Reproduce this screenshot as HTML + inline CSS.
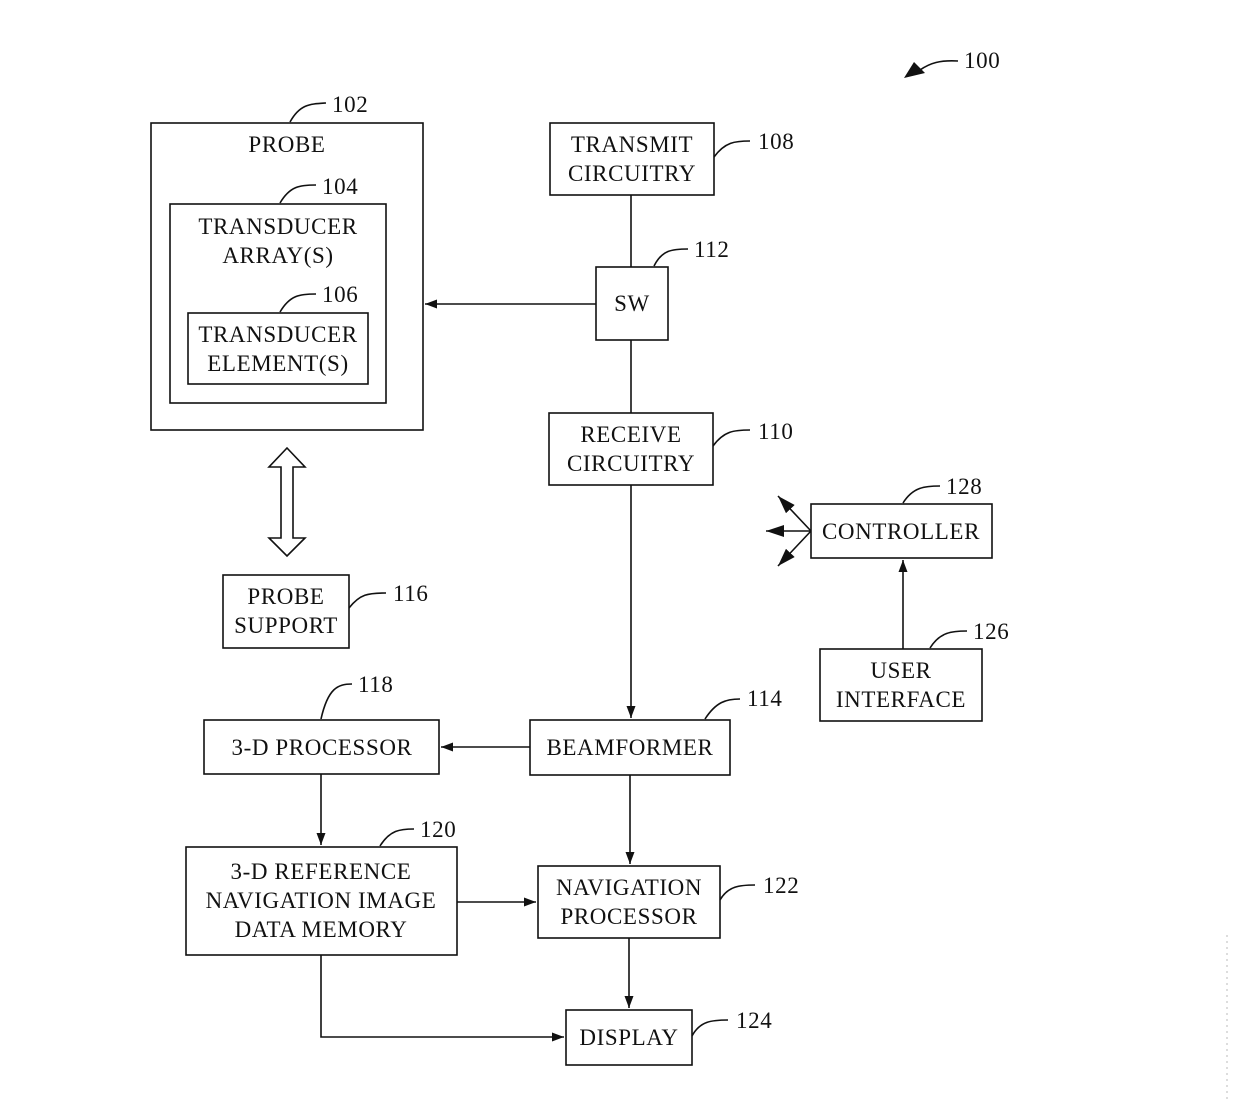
<!DOCTYPE html>
<html><head><meta charset="utf-8"><style>
body{margin:0;background:#fff}
svg text{font-family:"Liberation Serif",serif;font-size:23px;letter-spacing:0.6px;fill:#111}
</style></head><body>
<svg width="1240" height="1107" viewBox="0 0 1240 1107" xmlns="http://www.w3.org/2000/svg">
<defs>
<marker id="a" markerWidth="12" markerHeight="9" refX="12" refY="4.5" orient="auto" markerUnits="userSpaceOnUse" viewBox="0 0 12 9"><path d="M0,0 L12,4.5 L0,9 Z" fill="#111"/></marker>
<marker id="b" markerWidth="18" markerHeight="12" refX="18" refY="6" orient="auto" markerUnits="userSpaceOnUse" viewBox="0 0 18 12"><path d="M0,0 L18,6 L0,12 Z" fill="#111"/></marker>
</defs>
<g fill="none" stroke="#111" stroke-width="1.6">
<rect x="151" y="123" width="272" height="307"/>
<rect x="170" y="204" width="216" height="199"/>
<rect x="188" y="313" width="180" height="71"/>
<rect x="550" y="123" width="164" height="72"/>
<rect x="596" y="267" width="72" height="73"/>
<rect x="549" y="413" width="164" height="72"/>
<rect x="811" y="504" width="181" height="54"/>
<rect x="820" y="649" width="162" height="72"/>
<rect x="223" y="575" width="126" height="73"/>
<rect x="204" y="720" width="235" height="54"/>
<rect x="530" y="720" width="200" height="55"/>
<rect x="186" y="847" width="271" height="108"/>
<rect x="538" y="866" width="182" height="72"/>
<rect x="566" y="1010" width="126" height="55"/>
<line x1="631" y1="195" x2="631" y2="267"/>
<line x1="631" y1="340" x2="631" y2="413"/>
<line x1="596" y1="304" x2="425" y2="304" marker-end="url(#a)"/>
<line x1="631" y1="485" x2="631" y2="718" marker-end="url(#a)"/>
<line x1="530" y1="747" x2="441" y2="747" marker-end="url(#a)"/>
<line x1="630" y1="775" x2="630" y2="864" marker-end="url(#a)"/>
<line x1="321" y1="774" x2="321" y2="845" marker-end="url(#a)"/>
<line x1="457" y1="902" x2="536" y2="902" marker-end="url(#a)"/>
<line x1="629" y1="938" x2="629" y2="1008" marker-end="url(#a)"/>
<polyline points="321,955 321,1037 564,1037" marker-end="url(#a)"/>
<line x1="903" y1="649" x2="903" y2="560" marker-end="url(#a)"/>
<line x1="811" y1="531" x2="778" y2="496" marker-end="url(#b)"/>
<line x1="811" y1="531" x2="766" y2="531" marker-end="url(#b)"/>
<line x1="811" y1="531" x2="778" y2="566" marker-end="url(#b)"/>
<path d="M281,538 L281,467 L269,467 L287,448 L305,467 L293,467 L293,538 L305,538 L287,556 L269,538 Z"/>
<path d="M290,122 C300,104 310,104 326,103"/>
<path d="M280,203 C290,186 300,185 316,185"/>
<path d="M280,312 C290,295 300,294 316,294"/>
<path d="M714,157 C725,142 735,141 750,141"/>
<path d="M654,266 C662,250 672,249 688,249"/>
<path d="M713,446 C724,431 734,430 750,430"/>
<path d="M903,503 C913,487 925,486 940,486"/>
<path d="M930,648 C940,632 952,631 967,631"/>
<path d="M349,608 C360,594 368,593 386,593"/>
<path d="M321,719 C328,688 338,684 352,684"/>
<path d="M705,719 C716,702 726,699 740,699"/>
<path d="M380,846 C390,830 400,829 414,829"/>
<path d="M720,900 C728,886 740,885 755,885"/>
<path d="M692,1036 C700,1021 712,1020 728,1020"/>
<path d="M958,61 C940,60 930,63 920,70"/>
</g>
<path d="M904,78 L914,62 L925,73 Z" fill="#111"/>
<g stroke="#bbb" stroke-width="1" stroke-dasharray="2,4"><line x1="1227" y1="935" x2="1227" y2="1100"/></g>
<g text-anchor="middle">
<text x="287" y="152">PROBE</text>
<text x="278" y="234">TRANSDUCER</text>
<text x="278" y="263">ARRAY(S)</text>
<text x="278" y="342">TRANSDUCER</text>
<text x="278" y="371">ELEMENT(S)</text>
<text x="632" y="152">TRANSMIT</text>
<text x="632" y="181">CIRCUITRY</text>
<text x="632" y="311">SW</text>
<text x="631" y="442">RECEIVE</text>
<text x="631" y="471">CIRCUITRY</text>
<text x="901" y="539">CONTROLLER</text>
<text x="901" y="678">USER</text>
<text x="901" y="707">INTERFACE</text>
<text x="286" y="604">PROBE</text>
<text x="286" y="633">SUPPORT</text>
<text x="322" y="755">3-D PROCESSOR</text>
<text x="630" y="755">BEAMFORMER</text>
<text x="321" y="879">3-D REFERENCE</text>
<text x="321" y="908">NAVIGATION IMAGE</text>
<text x="321" y="937">DATA MEMORY</text>
<text x="629" y="895">NAVIGATION</text>
<text x="629" y="924">PROCESSOR</text>
<text x="629" y="1045">DISPLAY</text>
</g>
<g>
<text x="332" y="112">102</text>
<text x="322" y="194">104</text>
<text x="322" y="302">106</text>
<text x="758" y="149">108</text>
<text x="694" y="257">112</text>
<text x="758" y="439">110</text>
<text x="946" y="494">128</text>
<text x="973" y="639">126</text>
<text x="393" y="601">116</text>
<text x="358" y="692">118</text>
<text x="747" y="706">114</text>
<text x="420" y="837">120</text>
<text x="763" y="893">122</text>
<text x="736" y="1028">124</text>
<text x="964" y="68">100</text>
</g>
</svg>
</body></html>
